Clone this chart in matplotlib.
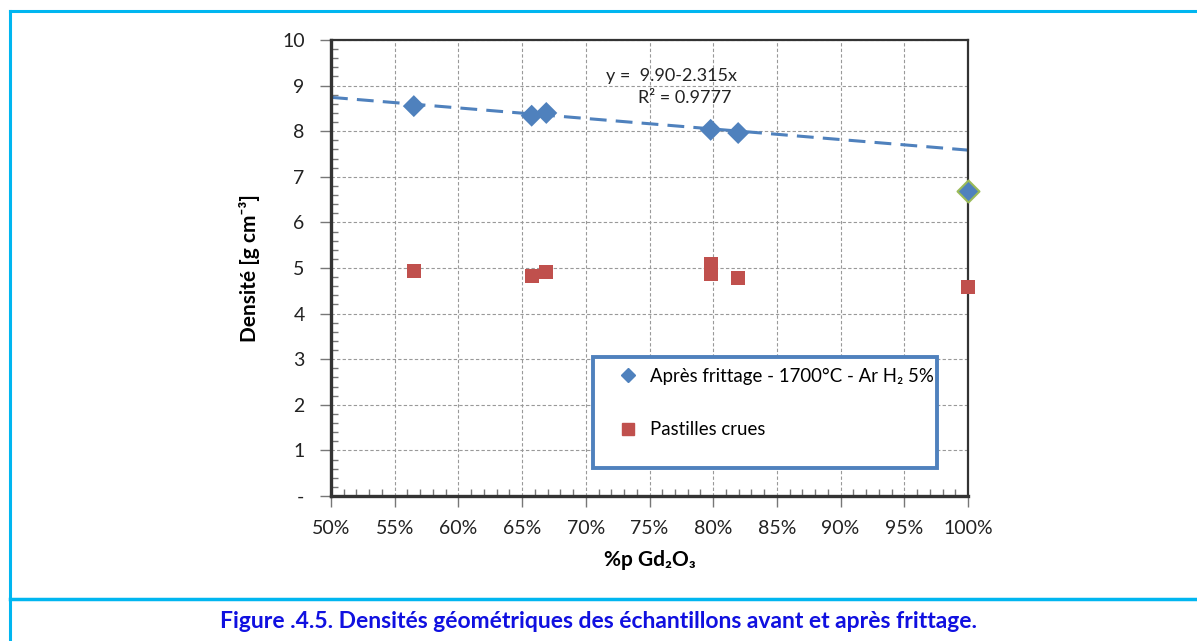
import matplotlib
matplotlib.use("Agg")
import matplotlib.pyplot as plt
import numpy as np
from matplotlib.ticker import FixedLocator, MultipleLocator, FuncFormatter
from matplotlib.patches import Rectangle
from matplotlib.lines import Line2D

plt.rcParams['font.family'] = ['Lato', 'DejaVu Sans']

# Gd2O3 weight fraction and measured densities (g/cm3)
fritte_x = [0.565, 0.6575, 0.669, 0.798, 0.8196]
fritte_y = [8.55, 8.34, 8.40, 8.03, 7.96]
pure_x = [1.00]
pure_y = [6.68]

crues_x = [0.565, 0.6575, 0.669, 0.798, 0.798, 0.8196, 1.00]
crues_y = [4.94, 4.83, 4.91, 5.08, 4.86, 4.78, 4.59]

# Linear fit reported on the chart
fit_a = 9.90
fit_b = -2.315
fit_eq = "y =  9.90-2.315x"
fit_r2 = "R² = 0.9777"

x_ticks = [0.50, 0.55, 0.60, 0.65, 0.70, 0.75, 0.80, 0.85, 0.90, 0.95, 1.00]
y_ticks = [0, 1, 2, 3, 4, 5, 6, 7, 8, 9, 10]
y_tick_labels = ["-", "1", "2", "3", "4", "5", "6", "7", "8", "9", "10"]

label_fritte = "Après frittage - 1700°C - Ar H₂ 5%"
label_crues = "Pastilles crues"
x_title = "%p Gd₂O₃"
y_title = "Densité [g cm⁻³]"
caption = "Figure .4.5. Densités géométriques des échantillons avant et après frittage."

BLUE = "#4F81BD"
RED = "#C0504D"
GREEN = "#9BBB59"
FRAME = "#00B6F0"

fig = plt.figure(figsize=(11.97, 6.41), dpi=100)
ax = fig.add_axes([331/1197, 1-496/641, (968-331)/1197, (496-40)/641])

# trend line
xf = np.array([0.5, 1.0])
ax.plot(xf, fit_a + fit_b*xf, color=BLUE, lw=2.2, ls=(0, (5.5, 3)), zorder=2)

ax.scatter(crues_x, crues_y, marker='s', s=100, color=RED, edgecolors='none', zorder=3, clip_on=False)
ax.scatter(fritte_x, fritte_y, marker='D', s=125, color=BLUE, edgecolors='none', zorder=4, clip_on=False)
ax.scatter(pure_x, pure_y, marker='D', s=125, color=BLUE, edgecolors=GREEN, linewidths=1.5, zorder=4, clip_on=False)

ax.set_xlim(0.5, 1.0)
ax.set_ylim(0, 10)
ax.xaxis.set_major_locator(FixedLocator(x_ticks))
ax.xaxis.set_minor_locator(MultipleLocator(0.01))
ax.yaxis.set_major_locator(FixedLocator(y_ticks))
ax.yaxis.set_minor_locator(MultipleLocator(0.2))
ax.xaxis.set_major_formatter(FuncFormatter(lambda v, p: f"{v*100:.0f}%"))
ax.set_yticklabels(y_tick_labels)

ax.grid(True, which='major', color='#999999', ls=(0, (3, 2)), lw=0.8)
ax.set_axisbelow(True)
for s in ax.spines.values():
    s.set_color('#333333')
    s.set_linewidth(1.6)
ax.spines['left'].set_linewidth(2.4)
ax.spines['bottom'].set_linewidth(2.4)

ax.tick_params(axis='both', which='major', direction='out', length=8, width=1, color='#777777',
               labelsize=14, labelcolor='#222222')
ax.tick_params(axis='both', which='minor', direction='in', length=5, width=1, color='#777777')
ax.tick_params(axis='x', which='major', pad=9)
ax.tick_params(axis='y', which='major', pad=11)

ax.set_xlabel(x_title, fontsize=15, fontweight='bold', labelpad=10)
ax.set_ylabel(y_title, fontsize=15, fontweight='bold', labelpad=16)

ax.text(0.5 + (671-331)/1274, (496-76)/45.6, fit_eq, ha='center', va='center',
        fontsize=13, color='#222222', zorder=5)
ax.text(0.5 + (685-331)/1274, (496-98)/45.6, fit_r2, ha='center', va='center',
        fontsize=13, color='#222222', zorder=5)

# legend box
ax.add_patch(Rectangle((0.411, 0.061), 0.54, 0.244, transform=ax.transAxes, fill=True,
                       facecolor='white', edgecolor=BLUE, lw=2.8, zorder=6))
handles = [Line2D([], [], marker='D', ls='none', color=BLUE, markersize=7),
           Line2D([], [], marker='s', ls='none', color=RED, markersize=9)]
leg = ax.legend(handles, [label_fritte, label_crues], loc='upper left',
                bbox_to_anchor=(0.416, 0.326), frameon=False, fontsize=13.4,
                labelspacing=1.95, handletextpad=0.6, handlelength=1.2, borderpad=0.6)
leg.set_zorder(7)

# page frame and caption
fig.add_artist(Line2D([10/1197, 10/1197], [0, 1-11/641], color=FRAME, lw=2.2))
fig.add_artist(Line2D([10/1197, 1], [1-11/641, 1-11/641], color=FRAME, lw=2.2))
fig.add_artist(Line2D([10/1197, 1], [1-599/641, 1-599/641], color=FRAME, lw=2.5))
fig.text(599/1197, 1-622/641, caption, ha='center', va='center', fontsize=16.5,
         fontweight='bold', color='#1010E0')

fig.savefig("out.png", dpi=100)
